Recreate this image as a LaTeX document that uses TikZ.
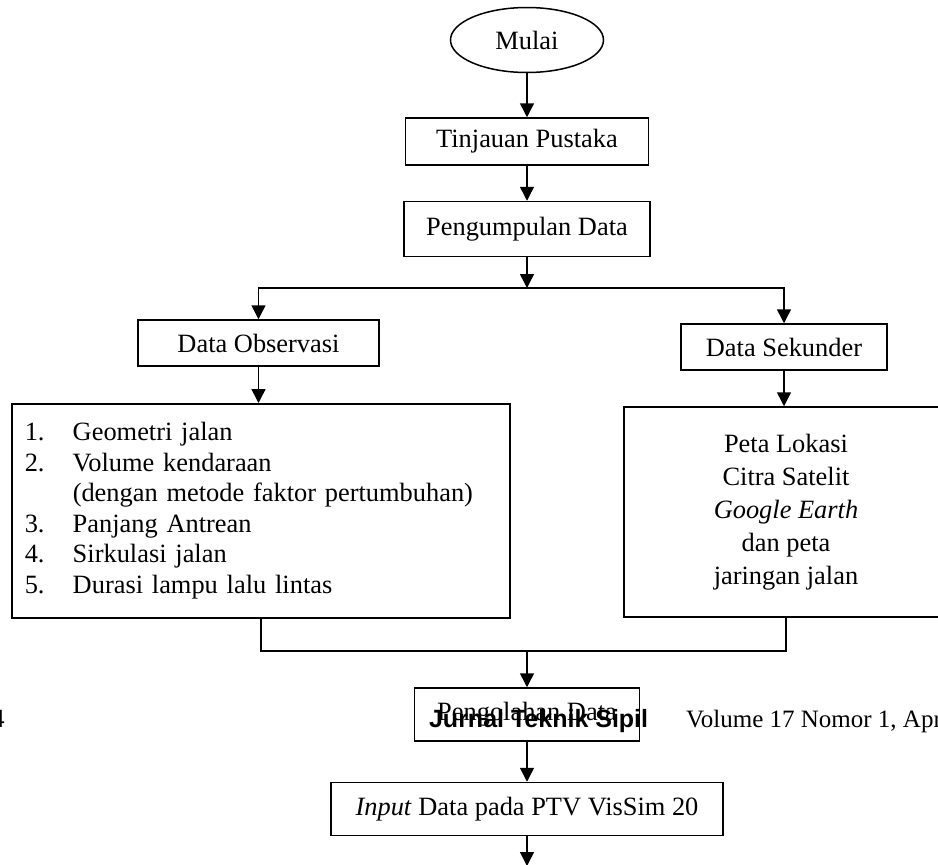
\documentclass[tikz,border=0pt]{standalone}
\usepackage{fontspec}
\setmainfont{Liberation Serif}
\newfontfamily\headfont{Liberation Sans}
\usetikzlibrary{positioning, shapes.geometric, arrows.meta}

\begin{document}
\begin{tikzpicture}[x=1pt, y=-1pt, line width=1.5pt, font=\fontsize{26.4}{30.5}\selectfont, main/.style = {draw, rectangle, inner sep=0pt}, start/.style = {draw, ellipse, inner sep=0pt, minimum width=153pt, minimum height=65pt}, arr/.style = {-{Triangle[length=14pt, width=14pt]}}]
				\useasboundingbox (0,0) rectangle (938,865);
				\node[start] (0) at (527,40) {Mulai};
				\node[main, minimum width=243pt, minimum height=47pt] (1) [below=44pt of 0] {Tinjauan Pustaka};
				\node[main, minimum width=246pt, minimum height=55pt] (2) [below=35pt of 1] {Pengumpulan Data};
				\node[main, minimum width=241pt, minimum height=46pt] (3) at (258.5,343) {Data Observasi};
				\node[main, minimum width=206pt, minimum height=46pt] (4) at (784,347) {Data Sekunder};
				\node[main, anchor=north west, text width=472pt, inner xsep=13pt, minimum height=214pt, align=left] (5) at (11,403) {\makebox[48pt][l]{1.}Geometri jalan\\\makebox[48pt][l]{2.}Volume kendaraan\\\hspace*{48pt}(dengan metode faktor pertumbuhan)\\\makebox[48pt][l]{3.}Panjang Antrean\\\makebox[48pt][l]{4.}Sirkulasi jalan\\\makebox[48pt][l]{5.}Durasi lampu lalu lintas};
				\node[main, minimum width=324pt, minimum height=210pt, align=center, font=\fontsize{26.4}{33}\selectfont] (6) at (786,512) {Peta Lokasi\\Citra Satelit\\\textit{Google Earth}\\dan peta\\jaringan jalan};
				\node[main, minimum width=225pt, minimum height=53pt] (7) at (527,714.5) {Pengolahan Data};
				\node[main, minimum width=392pt, minimum height=53pt] (8) [below=40pt of 7] {\textit{Input} Data pada PTV VisSim 20};
				\node[anchor=base west, font=\headfont\bfseries\fontsize{25}{30}\selectfont] (13) at (425,727) {Jurnal Teknik Sipil};
				\node[anchor=base west, font=\fontsize{25}{30}\selectfont] (14) at (682,727) {Volume 17 Nomor 1, April};
				\node[anchor=base east, font=\headfont\fontsize{25}{30}\selectfont] (15) at (9,727) {4};
				\coordinate (10) at (527,288);
				\coordinate (11) at (527,651);
				\coordinate (12) at (527,866);
				\draw[arr] (0) -- (1);
				\draw[arr] (1) -- (2);
				\draw[arr] (2) -- (10);
				\draw[arr] (10) -| (3);
				\draw[arr] (10) -| (4);
				\draw[arr] (3) -- (3 |- 5.north);
				\draw[arr] (4) -- (4 |- 6.north);
				\draw (5.south) |- (11) -| (6.south);
				\draw[arr] (11) -- (7);
				\draw[arr] (7) -- (8);
				\draw[arr] (8) -- (12);
			\end{tikzpicture}
\end{document}
